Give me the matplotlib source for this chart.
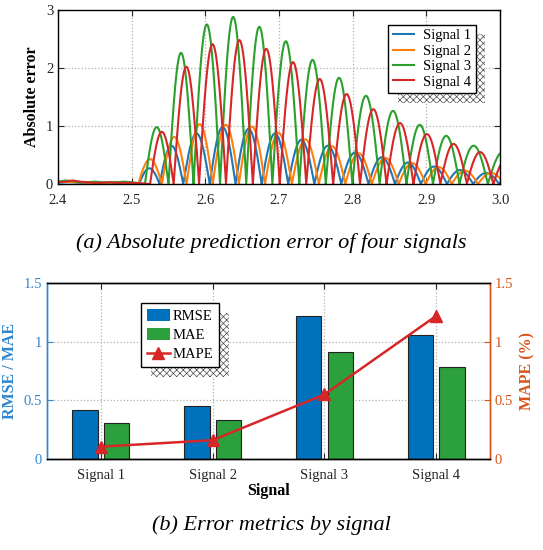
import numpy as np
import matplotlib.pyplot as plt
from matplotlib.patches import Patch
from matplotlib.lines import Line2D

plt.rcParams['font.family'] = 'Liberation Serif'
plt.rcParams['axes.linewidth'] = 1.0
plt.rcParams['hatch.linewidth'] = 0.5

# ---- (a) absolute error: arch peaks ----
sig_names = ["Signal 1", "Signal 2", "Signal 3", "Signal 4"]
sig_colors = ["#1f77b4", "#ff7f0e", "#2ca02c", "#d62728"]

s1_peak_t = [2.524, 2.552, 2.588, 2.624, 2.658, 2.695, 2.730, 2.766, 2.803, 2.840, 2.875, 2.910, 2.946, 2.981, 3.017]
s1_peak_h = [0.27, 0.66, 0.87, 0.98, 0.95, 0.87, 0.76, 0.66, 0.54, 0.46, 0.37, 0.30, 0.24, 0.19, 0.15]
s2_peak_t = [2.525, 2.557, 2.592, 2.628, 2.663, 2.699, 2.736, 2.772, 2.808, 2.844, 2.881, 2.917, 2.952, 2.988]
s2_peak_h = [0.43, 0.81, 1.03, 1.02, 0.99, 0.88, 0.77, 0.65, 0.53, 0.45, 0.36, 0.29, 0.23, 0.19]
s3_peak_t = [2.534, 2.566, 2.602, 2.638, 2.673, 2.709, 2.746, 2.781, 2.818, 2.855, 2.891, 2.927, 2.963, 3.004]
s3_peak_h = [0.98, 2.26, 2.75, 2.88, 2.71, 2.46, 2.14, 1.83, 1.52, 1.26, 1.02, 0.83, 0.66, 0.55]
s4_peak_t = [2.541, 2.573, 2.610, 2.646, 2.683, 2.719, 2.755, 2.792, 2.828, 2.864, 2.901, 2.937, 2.973, 3.009]
s4_peak_h = [0.90, 2.02, 2.41, 2.48, 2.33, 2.10, 1.81, 1.55, 1.29, 1.05, 0.86, 0.69, 0.55, 0.44]

# low level error before the onset
noise_t = [2.40, 2.41, 2.42, 2.43, 2.44, 2.45, 2.46, 2.47, 2.48, 2.49, 2.50]
s1_noise = [0.02, 0.03, 0.03, 0.02, 0.02, 0.02, 0.01, 0.02, 0.02, 0.02, 0.02]
s2_noise = [0.03, 0.04, 0.03, 0.03, 0.02, 0.02, 0.02, 0.02, 0.02, 0.02, 0.02]
s3_noise = [0.04, 0.06, 0.05, 0.03, 0.03, 0.04, 0.03, 0.03, 0.03, 0.04, 0.03]
s4_noise = [0.03, 0.04, 0.06, 0.04, 0.03, 0.02, 0.02, 0.03, 0.02, 0.02, 0.02]

# ---- (b) error metrics ----
rmse = [0.42, 0.45, 1.22, 1.055]
mae = [0.31, 0.33, 0.91, 0.78]
mape = [0.105, 0.16, 0.55, 1.22]


def arch_curve(peak_t, peak_h, n_t, n_v):
    pt = np.array(peak_t)
    ph = np.array(peak_h)
    mids = (pt[1:] + pt[:-1]) / 2
    zeros = np.concatenate([[pt[0] - (pt[1] - pt[0]) / 2], mids,
                            [pt[-1] + (pt[-1] - pt[-2]) / 2]])
    t = np.linspace(zeros[0], zeros[-1], 4000)
    y = np.zeros_like(t)
    for i in range(len(pt)):
        m = (t >= zeros[i]) & (t <= zeros[i + 1])
        y[m] = ph[i] * np.sin(np.pi * (t[m] - zeros[i]) / (zeros[i + 1] - zeros[i]))
    keep = np.array(n_t) < zeros[0]
    return (np.concatenate([np.array(n_t)[keep], t]),
            np.concatenate([np.array(n_v)[keep], y]))


shadow_style = {"ox": 7, "oy": -7, "facecolor": "white", "edgecolor": "0.3",
                "hatch": "xxxxx", "linewidth": 0, "alpha": 1}

fig = plt.figure(figsize=(5.43, 5.5), dpi=100)

ax1 = fig.add_axes([0.1068, 0.6655, 0.814, 0.3164])
peaks = [(s1_peak_t, s1_peak_h, s1_noise), (s2_peak_t, s2_peak_h, s2_noise),
         (s3_peak_t, s3_peak_h, s3_noise), (s4_peak_t, s4_peak_h, s4_noise)]
for (pt, ph, nv), name, c in zip(peaks, sig_names, sig_colors):
    t, y = arch_curve(pt, ph, noise_t, nv)
    ax1.plot(t, y, color=c, lw=1.5, label=name)
ax1.set_xlim(2.4, 3.0)
ax1.set_ylim(0, 3)
ax1.set_xticks(np.arange(2.4, 3.01, 0.1))
ax1.set_xticklabels(["2.4", "2.5", "2.6", "2.7", "2.8", "2.9", "3.0"])
ax1.set_yticks([0, 1, 2, 3])
ax1.set_ylabel("Absolute error", fontsize=11.5, fontweight="bold")
ax1.tick_params(direction="in", top=True, right=True, labelsize=10.5, colors="#262626", length=4)
ax1.tick_params(axis="x", pad=7.5)
ax1.grid(True, linestyle=":", color="#b0b0b0", lw=0.9)
ax1.legend(loc="upper right", bbox_to_anchor=(0.945, 0.915), borderaxespad=0, fontsize=10.5,
           frameon=True, fancybox=False, edgecolor="black", framealpha=1, labelspacing=0.15,
           handlelength=1.5, handletextpad=0.6, borderpad=0.3, shadow=shadow_style)
fig.text(0.5, 0.558, "(a) Absolute prediction error of four signals", ha="center", va="center",
         fontsize=16, style="italic")

# bottom panel
blue_ax = "#2f86cf"
orange_ax = "#d95319"
ax2 = fig.add_axes([0.0866, 0.1655, 0.8158, 0.32])
x = np.arange(1, 5)
w = 0.225
ax2.bar(x - 0.14, rmse, w, color="#0072bd", edgecolor="#222222", lw=0.8, zorder=2)
ax2.bar(x + 0.14, mae, w, color="#2ca03c", edgecolor="#222222", lw=0.8, zorder=2)
ax2.set_xlim(0.52, 4.48)
ax2.set_ylim(0, 1.5)
ax2.set_yticks([0, 0.5, 1, 1.5])
ax2.set_yticklabels(["0", "0.5", "1", "1.5"])
ax2.set_xticks(x)
ax2.set_xticklabels(sig_names)
ax2.set_axisbelow(True)
ax2.grid(True, linestyle=":", color="#b0b0b0", lw=0.9)
ax2.tick_params(axis="x", direction="in", top=True, labelsize=10.5, colors="#262626",
                length=4, pad=7)
ax2.tick_params(axis="y", direction="in", labelsize=10.5, colors=blue_ax, length=4)
ax2.set_xlabel("Signal", fontsize=11.5, fontweight="bold", labelpad=1)
ax2.set_ylabel("RMSE / MAE", fontsize=11.5, fontweight="bold", color=blue_ax)

ax3 = ax2.twinx()
ax3.plot(x, mape, color="#d62728", lw=1.8, marker="^", markersize=9, zorder=3)
ax3.set_ylim(0, 1.5)
ax3.set_yticks([0, 0.5, 1, 1.5])
ax3.set_yticklabels(["0", "0.5", "1", "1.5"])
ax3.tick_params(axis="y", direction="in", labelsize=10.5, colors=orange_ax, length=4)
ax3.set_ylabel("MAPE (%)", fontsize=11.5, fontweight="bold", color=orange_ax)
for a in (ax2, ax3):
    a.spines["left"].set_color(blue_ax)
    a.spines["right"].set_color(orange_ax)

handles = [Patch(facecolor="#0072bd", edgecolor="none"),
           Patch(facecolor="#2ca03c", edgecolor="none"),
           Line2D([], [], color="#d62728", lw=1.8, marker="^", markersize=9)]
ax3.legend(handles, ["RMSE", "MAE", "MAPE"], loc="upper left", bbox_to_anchor=(0.212, 0.886),
           borderaxespad=0, fontsize=10.5, frameon=True, fancybox=False, edgecolor="black",
           framealpha=1, labelspacing=0.35, handlelength=1.6, handleheight=0.9,
           handletextpad=0.2, borderpad=0.4, shadow=shadow_style)
fig.text(0.5, 0.045, "(b) Error metrics by signal", ha="center", va="center",
         fontsize=16, style="italic")

fig.savefig("out.png", dpi=100)
